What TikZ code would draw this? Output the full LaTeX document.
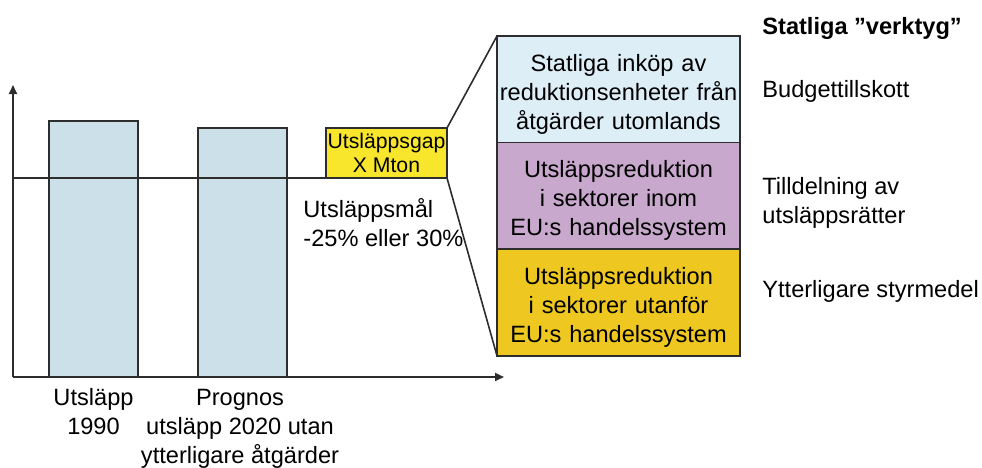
\documentclass[tikz,border=0pt]{standalone}
\usepackage{fontspec}
\setmainfont{Liberation Sans}
\usepackage{tikz}
\usetikzlibrary{arrows.meta,positioning}
\definecolor{linegray}{RGB}{45,45,45}
\definecolor{barblue}{RGB}{204,224,234}
\definecolor{toolblue}{RGB}{221,238,247}
\definecolor{toolpurple}{RGB}{200,168,204}
\definecolor{toolgold}{RGB}{238,200,32}
\definecolor{gapyellow}{RGB}{247,230,44}
\newcommand{\mainsize}{\fontsize{11.8}{14.5}\selectfont}
\tikzset{
  bar/.style    ={draw=linegray, fill=barblue, line width=0.8pt, minimum width=44.5pt,
                  inner sep=0pt, outer sep=0pt, anchor=south west},
  gapbox/.style ={draw=linegray, fill=gapyellow, line width=0.8pt, minimum width=60.5pt,
                  minimum height=25pt, inner sep=0pt, outer sep=0pt, align=center,
                  font=\fontsize{10.6}{12}\selectfont},
  toolbox/.style={draw=linegray, line width=0.8pt, minimum width=121.5pt,
                  minimum height=53.3pt, text width=119pt, align=center,
                  inner sep=0pt, outer sep=0pt, font=\mainsize,
                  execute at begin node={\rule{0pt}{13.5pt}}},
  lbl/.style    ={inner sep=0pt, font=\mainsize},
  axis/.style   ={-{Triangle[length=4.5pt,width=4pt]}, line width=1pt, linegray},
  zline/.style  ={line width=0.8pt, linegray},
}
\begin{document}
\begin{tikzpicture}[x=0.5pt, y=-0.5pt]
\useasboundingbox (0,0) rectangle (982,467);
\coordinate (origin) at (13,377);
\coordinate (ytip) at (13,85);
\coordinate (xtip) at (504,377);
\coordinate (target) at (13,178);

% staplar
\node[bar, minimum height=128pt] (bar1990) at (49,377) {};
\node[bar, minimum height=124.5pt] (bar2020) at (198,377) {};
\node[gapbox] (gap) at (386.5,153) {Utsläppsgap\\X Mton};

% verktyg
\node[toolbox, fill=toolblue, anchor=north west] (buy) at (497,36)
  {Statliga inköp av\\reduktionsenheter från\\åtgärder utomlands};
\node[toolbox, fill=toolpurple, below=0pt of buy] (ets)
  {Utsläppsreduktion\\i sektorer inom\\EU:s handelssystem};
\node[toolbox, fill=toolgold, below=0pt of ets] (nonets)
  {Utsläppsreduktion\\i sektorer utanför\\EU:s handelssystem};

\draw[axis] (origin) -- (ytip);
\draw[axis] (origin) -- (xtip);
\draw[zline] (target) -- (gap.south east);
\draw[zline] (gap.north east) -- (buy.north west);
\draw[zline] (gap.south east) -- (nonets.south west);

% texter
\node[lbl, align=left, anchor=north west] (goal) at (303,198)
  {Utsläppsmål\\-25\% eller 30\%};
\node[lbl, align=center, anchor=north] (lbl1990) at (93.5,388) {Utsläpp\\1990};
\node[lbl, align=center, anchor=north] (lbl2020) at (240,389)
  {Prognos\\utsläpp 2020 utan\\ytterligare åtgärder};
\node[lbl, anchor=north west, font=\mainsize\bfseries] (title) at (762,17)
  {Statliga ”verktyg”};
\node[lbl, anchor=north west] (budget) at (762,80) {Budgettillskott};
\node[lbl, align=left, anchor=north west] (alloc) at (762,177)
  {Tilldelning av\\utsläppsrätter};
\node[lbl, anchor=north west] (policy) at (762,280) {Ytterligare styrmedel};
\end{tikzpicture}
\end{document}
